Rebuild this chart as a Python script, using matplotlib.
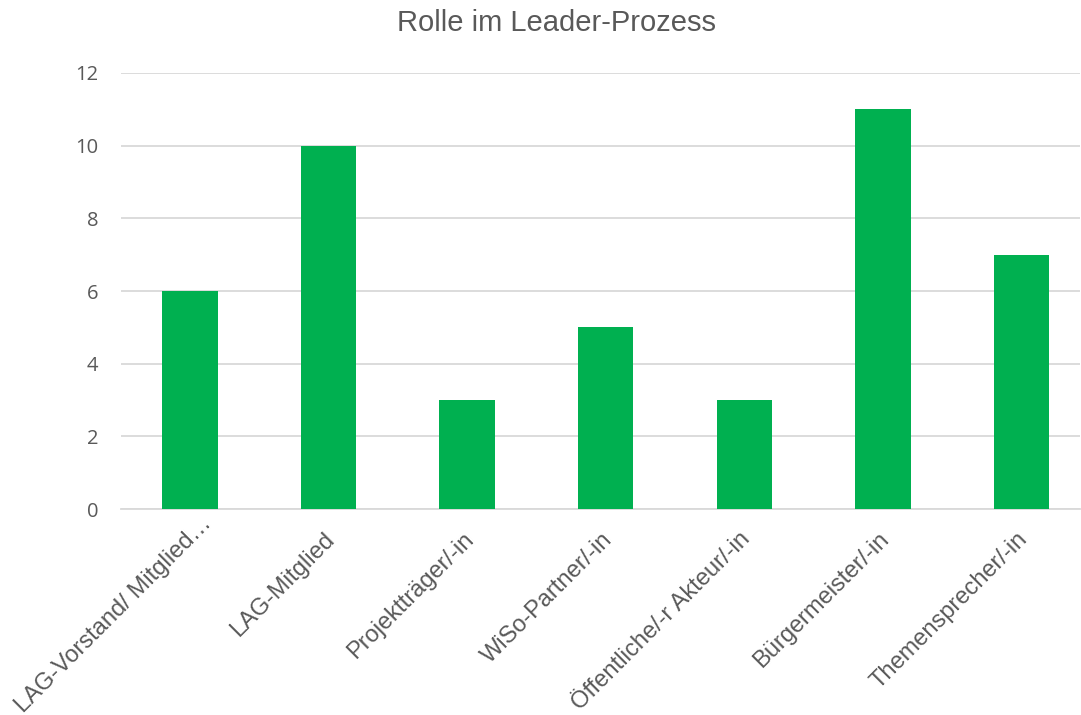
import matplotlib
matplotlib.use("Agg")
import matplotlib.pyplot as plt
from matplotlib.transforms import ScaledTranslation

categories = [
    "LAG-Vorstand/ Mitglied…",
    "LAG-Mitglied",
    "Projektträger/-in",
    "WiSo-Partner/-in",
    "Öffentliche/-r Akteur/-in",
    "Bürgermeister/-in",
    "Themensprecher/-in",
]
values = [6, 10, 3, 5, 3, 11, 7]
y_ticks = [0, 2, 4, 6, 8, 10, 12]

text_color = "#595959"
grid_color = "#d9d9d9"
bar_color = "#00B050"

fig = plt.figure(figsize=(10.81, 7.15), dpi=100)
ax = fig.add_axes([0.1115, 0.288, 0.8875, 0.610])

x = list(range(len(categories)))
ax.bar(x, values, width=0.40, color=bar_color, zorder=3)

ax.set_xlim(-0.5, len(categories) - 0.58)
ax.set_ylim(0, 12)
ax.set_yticks(y_ticks)
ax.set_yticklabels([str(t) for t in y_ticks], fontsize=14.5,
                   family=["Open Sans", "DejaVu Sans"], color=text_color)
ax.yaxis.grid(True, color=grid_color, linewidth=1.3, zorder=0)
ax.tick_params(axis="y", length=0, pad=16)
ax.tick_params(axis="x", length=0, pad=8)

ax.set_xticks(x)
ax.set_xticklabels(categories, rotation=45, ha="right", va="top",
                   rotation_mode="anchor", fontsize=17,
                   family=["Liberation Sans", "DejaVu Sans"], color=text_color)

# nudge the rotated labels; a truncated label lets its ellipsis run past the anchor
px = 72 / fig.dpi
for i, lab in enumerate(ax.get_xticklabels()):
    dx, dy = -5, -8
    if lab.get_text().endswith("…"):
        dx, dy = dx + 16, dy + 16
    lab.set_transform(lab.get_transform()
                      + ScaledTranslation(dx * px / 72, dy * px / 72, fig.dpi_scale_trans))

for side in ["top", "right", "left"]:
    ax.spines[side].set_visible(False)
ax.spines["bottom"].set_color(grid_color)
ax.spines["bottom"].set_linewidth(1.3)

fig.text(0.515, 0.968, "Rolle im Leader-Prozess", ha="center", va="center",
         fontsize=21, family=["Liberation Sans", "DejaVu Sans"], color=text_color)

fig.savefig("out.png", dpi=100)
